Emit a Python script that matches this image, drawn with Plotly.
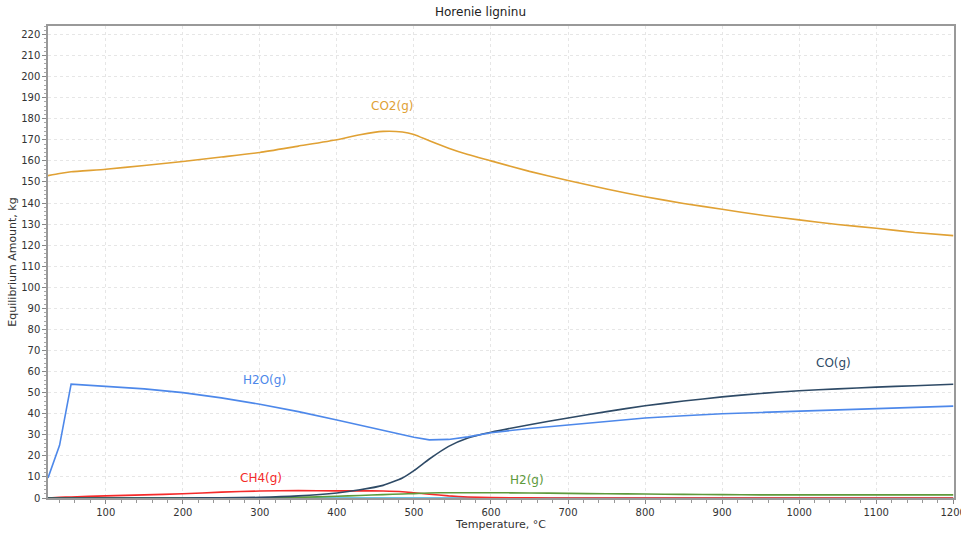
import plotly.graph_objects as go

# Temperature grid (°C) and equilibrium amounts (kg)
temp = [25, 40, 55, 100, 150, 200, 250, 300, 350, 400, 430, 460, 485, 500, 520, 545,
        570, 600, 650, 700, 750, 800, 850, 900, 950, 1000, 1050, 1100, 1150, 1200]

co2 = [153.0, 154.0, 154.8, 156.0, 157.8, 159.7, 161.8, 164.0, 167.0, 170.0, 172.4, 174.0,
       173.7, 172.5, 169.5, 166.0, 163.0, 160.0, 155.0, 150.7, 146.6, 143.0, 139.8, 137.0,
       134.3, 132.0, 129.8, 128.0, 126.0, 124.5]

h2o = [9.5, 25.0, 54.0, 53.0, 51.8, 50.0, 47.5, 44.5, 41.0, 37.0, 34.6, 32.0, 30.0, 28.8,
       27.6, 27.8, 29.0, 31.0, 33.0, 34.6, 36.5, 38.0, 39.0, 40.0, 40.6, 41.2, 41.7, 42.3,
       43.0, 43.6]

co = [0.0, 0.0, 0.0, 0.0, 0.0, 0.0, 0.1, 0.3, 1.0, 2.4, 3.9, 6.0, 9.5, 13.0, 18.5, 24.5,
      28.5, 31.2, 34.8, 38.0, 41.0, 43.8, 46.0, 48.0, 49.6, 50.9, 51.8, 52.6, 53.3, 54.0]

ch4 = [0.0, 0.3, 0.5, 1.0, 1.5, 2.0, 2.8, 3.3, 3.5, 3.4, 3.4, 3.3, 3.0, 2.5, 1.8, 1.0,
       0.5, 0.2, 0.05, 0.0, 0.0, 0.0, 0.0, 0.0, 0.0, 0.0, 0.0, 0.0, 0.0, 0.0]

h2 = [0.0, 0.0, 0.0, 0.0, 0.0, 0.0, 0.0, 0.1, 0.3, 0.8, 1.2, 1.6, 1.9, 2.1, 2.4, 2.5,
      2.5, 2.5, 2.4, 2.2, 2.0, 1.9, 1.7, 1.6, 1.5, 1.5, 1.5, 1.5, 1.5, 1.5]

other = [0.0] * len(temp)

series = [
    ("C(g)", other, "#3BB0DE", None, "linear"),
    ("CH4(g)", ch4, "#F42A2A", ("CH4(g)", 302, 9.5), "spline"),
    ("H2(g)", h2, "#5E9A3C", ("H2(g)", 647, 8.5), "spline"),
    ("CO(g)", co, "#2E4A66", ("CO(g)", 1044, 64), "spline"),
    ("H2O(g)", h2o, "#4D88EA", ("H2O(g)", 306, 56), "linear"),
    ("CO2(g)", co2, "#E0A134", ("CO2(g)", 472, 186), "spline"),
]

fig = go.Figure()
annotations = []
for name, vals, color, lab, shape in series:
    line = dict(color=color, width=1.6, shape=shape)
    if shape == "spline":
        line["smoothing"] = 0.5
    fig.add_trace(go.Scatter(x=temp, y=vals, mode="lines", name=name, line=line,
                             showlegend=False))
    if lab:
        annotations.append(dict(x=lab[1], y=lab[2], text=lab[0], showarrow=False,
                                font=dict(color=color, size=12, family="DejaVu Sans")))

grid = dict(showgrid=True, gridcolor="#E6E6E6", griddash="dot", gridwidth=1)

fig.update_layout(
    width=961, height=534,
    margin=dict(l=48, r=5, t=26, b=36),
    paper_bgcolor="white", plot_bgcolor="white",
    font=dict(family="DejaVu Sans", size=10, color="#333333"),
    title=dict(text="Horenie ligninu", x=0.5, xanchor="center", y=0.985, yanchor="top",
               font=dict(size=12, color="#222222")),
    annotations=annotations,
    xaxis=dict(range=[25, 1201], tick0=0, dtick=100, ticks="outside", ticklen=4,
               tickcolor="#888888", showline=True, linecolor="#999999", linewidth=1.5,
               mirror=True, zeroline=False, ticklabeloverflow="allow", automargin=False,
               minor=dict(dtick=20, ticks="outside", ticklen=3, tickcolor="#999999", showgrid=False),
               title=dict(text="Temperature, °C", font=dict(size=11), standoff=2),
               **grid),
    yaxis=dict(range=[0, 224], tick0=0, dtick=10, ticks="outside", ticklen=4,
               tickcolor="#888888", showline=True, linecolor="#999999", linewidth=1.5,
               mirror=True, zeroline=False,
               minor=dict(dtick=2, ticks="outside", ticklen=2, tickcolor="#AAAAAA", showgrid=False),
               title=dict(text="Equilibrium Amount, kg", font=dict(size=11), standoff=2),
               **grid),
)

fig.write_html("out.html")
